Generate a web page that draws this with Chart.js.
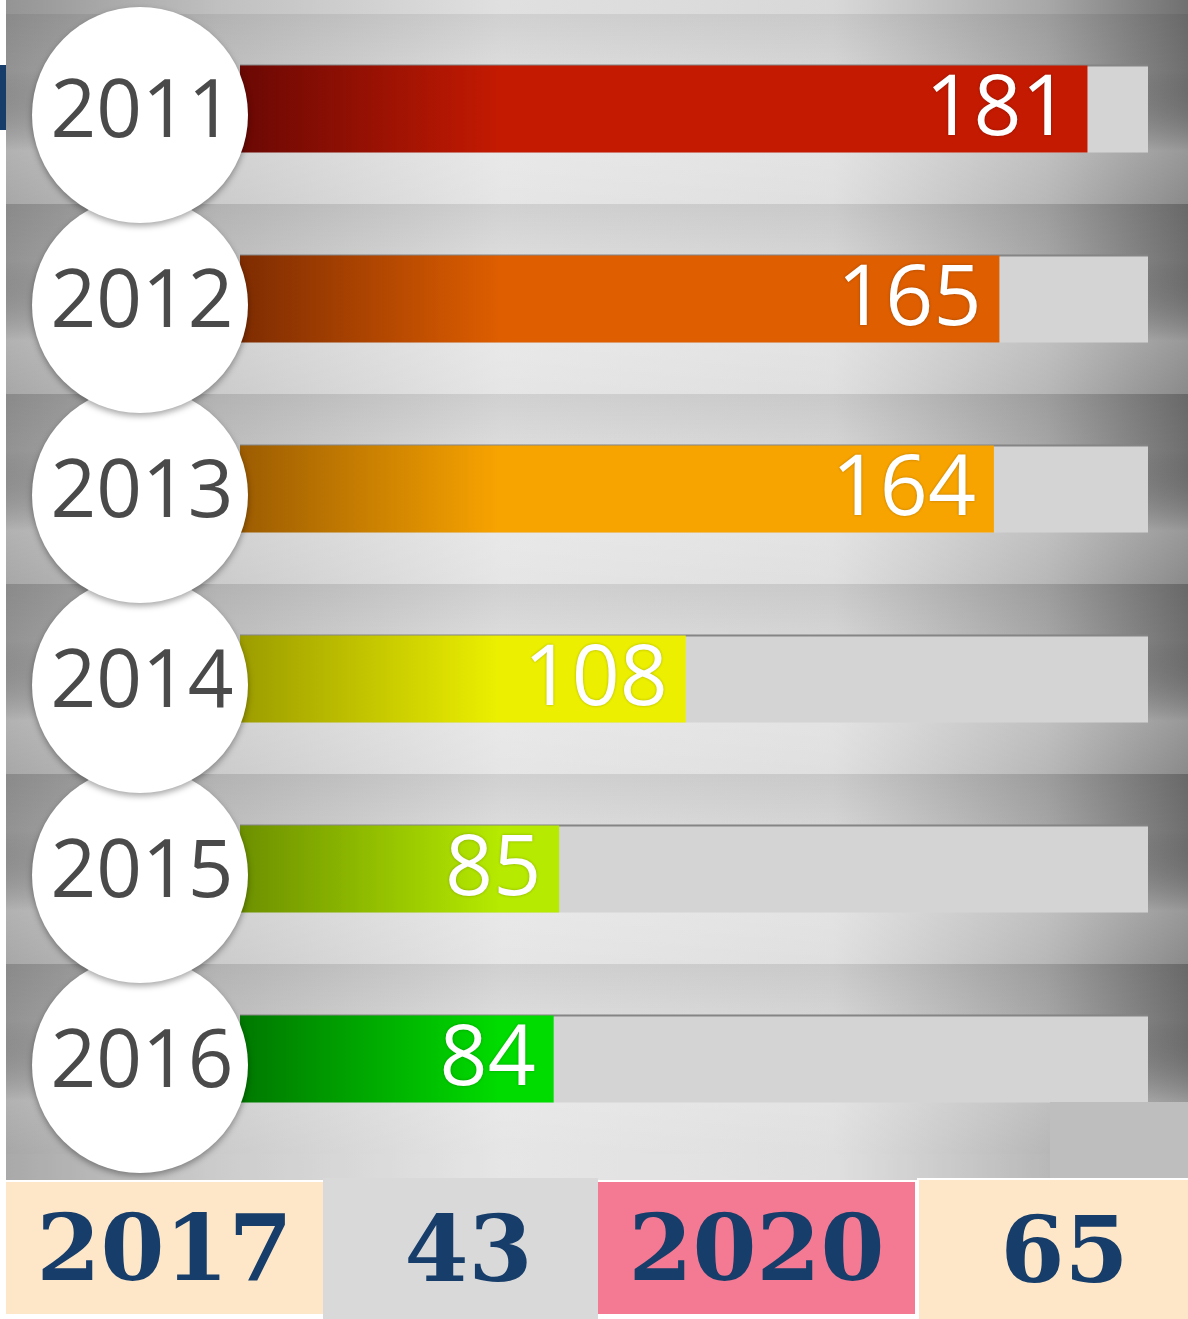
<!DOCTYPE html>
<html>
<head>
<meta charset="utf-8">
<script src="https://cdn.jsdelivr.net/npm/chart.js@4"></script>
<style>
  body { margin: 0; background: #fff; width: 1188px; height: 1319px; position: relative; overflow: hidden; }
  #wrap { position: absolute; left: 6px; top: 0; width: 1182px; height: 1180px; }
  #navy { position: absolute; left: 0; top: 65px; width: 6px; height: 65px; background: #173d6a; }
  #patch { position: absolute; left: 1050px; top: 1102px; width: 138px; height: 76px; background: #bebebe; }
  .box { position: absolute; display: flex; align-items: center; justify-content: center; box-sizing: border-box;
         font-family: "DejaVu Serif", serif; font-weight: bold; font-size: 92px; color: #173d6a; }
</style>
</head>
<body>
<div id="navy"></div>
<div id="wrap"><canvas id="yearChart"></canvas></div>
<div id="patch"></div>
<div id="footer"></div>
<script>
const years = ['2011', '2012', '2013', '2014', '2015', '2016'];
const counts = [181, 165, 164, 108, 85, 84];
const barDark = ['#6a0804', '#7e2c02', '#9c5c02', '#9c9c00', '#6c9000', '#007800'];
const barColors = ['#c41a02', '#de5e00', '#f8a400', '#ecf000', '#b6ea00', '#00dc00'];

const laterYears = ['2017', '2020'];
const laterCounts = [43, 65];

// footer boxes: year / count pairs
const footer = document.getElementById('footer');
const boxes = [
  { text: laterYears[0], left: 6, top: 1182, w: 317, h: 132, bg: '#fde7c8' },
  { text: String(laterCounts[0]), left: 323, top: 1178, w: 275, h: 141, bg: '#d9d9d9', pad: 16 },
  { text: laterYears[1], left: 598, top: 1182, w: 317, h: 132, bg: '#f47a93' },
  { text: String(laterCounts[1]), left: 917, top: 1178, w: 271, h: 141, bg: '#fde7c8', pad: 22, border: true }
];
boxes.forEach(b => {
  const d = document.createElement('div');
  d.className = 'box';
  d.style.left = b.left + 'px';
  d.style.top = b.top + 'px';
  d.style.width = b.w + 'px';
  d.style.height = b.h + 'px';
  d.style.background = b.bg;
  if (b.pad) d.style.paddingLeft = b.pad + 'px';
  if (b.border) d.style.borderTop = '2px solid #fff', d.style.borderLeft = '2px solid #fff';
  d.textContent = b.text;
  footer.appendChild(d);
});

const backdrop = {
  id: 'backdrop',
  beforeDraw(chart) {
    const { ctx, width, height } = chart;
    const yScale = chart.scales.y;
    ctx.save();
    const g = ctx.createLinearGradient(0, 0, width, 0);
    g.addColorStop(0, '#949494');
    g.addColorStop(0.18, '#c0c0c0');
    g.addColorStop(0.42, '#e0e0e0');
    g.addColorStop(0.7, '#d8d8d8');
    g.addColorStop(0.88, '#a8a8a8');
    g.addColorStop(1, '#707070');
    ctx.fillStyle = g;
    ctx.fillRect(0, 0, width, height);
    const band = yScale.getPixelForValue(1) - yScale.getPixelForValue(0);
    let bottom = 0;
    years.forEach((y, i) => {
      const c = yScale.getPixelForValue(i);
      const top = c - band / 2;
      const v = ctx.createLinearGradient(0, top, 0, top + band);
      v.addColorStop(0, 'rgba(0,0,0,0.07)');
      v.addColorStop(0.3, 'rgba(0,0,0,0.01)');
      v.addColorStop(0.72, 'rgba(255,255,255,0.28)');
      v.addColorStop(1, 'rgba(255,255,255,0.18)');
      ctx.fillStyle = v;
      ctx.fillRect(0, top, width, band);
      bottom = top + band;
    });
    ctx.fillStyle = 'rgba(255,255,255,0.2)';
    ctx.fillRect(0, bottom, width, height - bottom);
    ctx.restore();
  },
  beforeDatasetsDraw(chart) {
    const { ctx, chartArea } = chart;
    const meta = chart.getDatasetMeta(0);
    ctx.save();
    meta.data.forEach(bar => {
      const h = bar.height;
      ctx.fillStyle = '#d4d4d4';
      ctx.fillRect(chartArea.left, bar.y - h / 2, chartArea.right - chartArea.left, h);
      ctx.fillStyle = '#858585';
      ctx.fillRect(chartArea.left, bar.y - h / 2 - 1, chartArea.right - chartArea.left, 2);
    });
    ctx.restore();
  },
  afterDatasetsDraw(chart) {
    const { ctx, chartArea } = chart;
    const meta = chart.getDatasetMeta(0);
    ctx.save();
    // value labels at the bar ends
    ctx.font = '400 84px "Open Sans", "Noto Sans", sans-serif';
    ctx.textAlign = 'right';
    ctx.textBaseline = 'middle';
    ctx.fillStyle = '#ffffff';
    ctx.shadowColor = 'rgba(0,0,0,0.25)';
    ctx.shadowBlur = 3;
    meta.data.forEach((bar, i) => {
      ctx.fillText(String(counts[i]), bar.x - 18, bar.y + 2);
    });
    // year discs, bottom first so the upper ones overlap
    const cx = chartArea.left - 100;
    for (let i = meta.data.length - 1; i >= 0; i--) {
      const cy = meta.data[i].y + 6;
      ctx.shadowColor = 'rgba(0,0,0,0.35)';
      ctx.shadowBlur = 6;
      ctx.shadowOffsetY = 3;
      ctx.beginPath();
      ctx.arc(cx, cy, 108, 0, Math.PI * 2);
      ctx.fillStyle = '#ffffff';
      ctx.fill();
      ctx.shadowColor = 'transparent';
      ctx.shadowBlur = 0;
      ctx.shadowOffsetY = 0;
      ctx.font = '400 80px "Open Sans", "Noto Sans", sans-serif';
      ctx.textAlign = 'center';
      ctx.fillStyle = '#4a4a4a';
      ctx.fillText(years[i], cx + 2, meta.data[i].y + 5);
    }
    ctx.restore();
  }
};

new Chart(document.getElementById('yearChart'), {
  type: 'bar',
  data: {
    labels: years,
    datasets: [{
      data: counts,
      backgroundColor: ctx => {
        const ca = ctx.chart.chartArea;
        const i = ctx.dataIndex;
        if (!ca) return barColors[i];
        const g = ctx.chart.ctx.createLinearGradient(ca.left, 0, ca.left + 260, 0);
        g.addColorStop(0, barDark[i]);
        g.addColorStop(1, barColors[i]);
        return g;
      },
      borderWidth: 0,
      barPercentage: 0.458,
      categoryPercentage: 1
    }]
  },
  options: {
    indexAxis: 'y',
    responsive: true,
    maintainAspectRatio: false,
    animation: false,
    layout: { padding: { left: 234, right: 40, top: 14, bottom: 26 } },
    scales: {
      x: { display: false, min: 27, max: 192 },
      y: { display: false }
    },
    plugins: {
      legend: { display: false },
      tooltip: { enabled: false }
    }
  },
  plugins: [backdrop]
});
</script>
</body>
</html>
